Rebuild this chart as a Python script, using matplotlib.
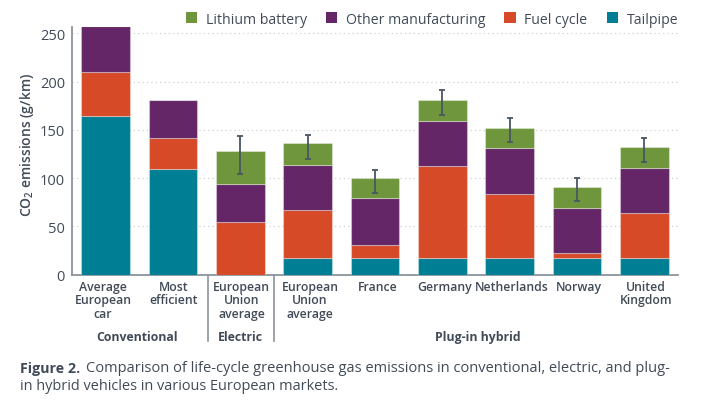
import matplotlib
matplotlib.use("Agg")
import matplotlib.pyplot as plt
from matplotlib.transforms import ScaledTranslation
from matplotlib.patches import Patch
import numpy as np

categories = ["Average\nEuropean\ncar", "Most\nefficient", "European\nUnion\naverage",
              "European\nUnion\naverage", "France", "Germany", "Netherlands", "Norway",
              "United\nKingdom"]

# cumulative tops, g/km
tailpipe_top = [164, 110, 0, 17, 17, 17, 17, 17, 17]
fuel_top = [210.5, 141.5, 55, 67, 31, 113, 84, 22.5, 64]
other_top = [258, 181, 94, 114, 79.5, 159.5, 131, 69.5, 111]
battery_top = [258, 181, 128.5, 136, 100, 181, 152, 91, 132]

err_x = [2, 3, 4, 5, 6, 7, 8]
err_high = [144, 145, 109, 191, 162.5, 100, 142]
err_low = [104, 120, 84.5, 166, 137, 76, 117]

TEXT = "#414b58"
GRAY = "#8c939b"
W, H = 709, 410

plt.rcParams["font.family"] = ["Open Sans", "DejaVu Sans"]
plt.rcParams["mathtext.default"] = "regular"

fig = plt.figure(figsize=(W / 100, H / 100), dpi=100)
ax = fig.add_axes([72 / W, 1 - 275.7 / H, (678 - 72) / W, (275.7 - 27.7) / H])

x = np.arange(len(categories))
tail = np.array(tailpipe_top, dtype=float)
fuel = np.array(fuel_top, dtype=float)
other = np.array(other_top, dtype=float)
batt = np.array(battery_top, dtype=float)

colors = {"Lithium battery": "#6f963c", "Other manufacturing": "#642667",
          "Fuel cycle": "#d64a28", "Tailpipe": "#007f94"}

bw = 0.72
edge = dict(edgecolor="#ffffff55", linewidth=0.8, zorder=3)
ax.bar(x, tail, bw, color=colors["Tailpipe"], **edge)
ax.bar(x, fuel - tail, bw, bottom=tail, color=colors["Fuel cycle"], **edge)
ax.bar(x, other - fuel, bw, bottom=fuel, color=colors["Other manufacturing"], **edge)
ax.bar(x, batt - other, bw, bottom=other, color=colors["Lithium battery"], **edge)

err_x = np.array(err_x)
high = np.array(err_high, dtype=float)
low = np.array(err_low, dtype=float)
mid = (high + low) / 2
ax.errorbar(err_x, mid, yerr=(high - low) / 2, fmt="none", ecolor="#4a5663",
            elinewidth=1.3, capsize=2.4, capthick=1.3, zorder=4)

ax.set_xlim(-0.5, 8.5)
ax.set_ylim(0, 257)
ax.set_yticks([0, 50, 100, 150, 200, 250])
ax.yaxis.grid(True, linestyle=(0, (1, 2.5)), color="#cfd2d5", linewidth=0.9, zorder=0)
ax.set_axisbelow(True)
for s in ["top", "right"]:
    ax.spines[s].set_visible(False)
ax.spines["left"].set_color(GRAY)
ax.spines["left"].set_linewidth(1.3)
ax.spines["bottom"].set_color(GRAY)
ax.spines["bottom"].set_linewidth(1.3)
ax.tick_params(axis="y", length=0, pad=5, labelsize=10.5, labelcolor=TEXT)
ax.tick_params(axis="x", length=0, pad=4)
ax.set_xticks(x)
ax.set_xticklabels(categories, fontsize=8.8, fontweight="semibold", color=TEXT, linespacing=1.02)
# labels sit a little off the bar centres in the original
label_nudge = [-2.7, 0.4, 1.3, 2.3, 3, 2.7, 2.3, 2, 1.4]
for lab, dx in zip(ax.get_xticklabels(), label_nudge):
    lab.set_transform(lab.get_transform() + ScaledTranslation(dx / 100, 0, fig.dpi_scale_trans))

fig.text(27 / W, 1 - 145 / H, "CO$_2$ emissions (g/km)", rotation=90, ha="center", va="center",
         fontsize=10, fontweight="semibold", color=TEXT)

# group separators and group names
for px in [208.3, 274.3]:
    fig.add_artist(plt.Line2D([px / W, px / W], [1 - 276 / H, 1 - 341.7 / H], color=GRAY, linewidth=1.2))
for px, name in [(136.7, "Conventional"), (240.7, "Electric"), (478, "Plug-in hybrid")]:
    fig.text(px / W, 1 - 338 / H, name, ha="center", va="center", fontsize=8.8, fontweight="bold", color=TEXT)

handles = [Patch(facecolor=c, label=k) for k, c in colors.items()]
fig.legend(handles=handles, ncol=4, frameon=False, loc="center right",
           bbox_to_anchor=(678 / W, 1 - 20 / H), fontsize=10.2, labelcolor=TEXT,
           handlelength=0.8, handleheight=0.8, handletextpad=0.6, columnspacing=1.35,
           borderaxespad=0, borderpad=0)

fig.text(20 / W, 1 - 369 / H, "Figure 2.", ha="left", va="center", fontsize=10.3, fontweight="bold", color=TEXT)
fig.text(86 / W, 1 - 369 / H, "Comparison of life-cycle greenhouse gas emissions in conventional, electric, and plug-",
         ha="left", va="center", fontsize=10.55, color=TEXT)
fig.text(20 / W, 1 - 387 / H, "in hybrid vehicles in various European markets.", ha="left", va="center",
         fontsize=10.45, color=TEXT)

fig.savefig("out.png", dpi=100)
